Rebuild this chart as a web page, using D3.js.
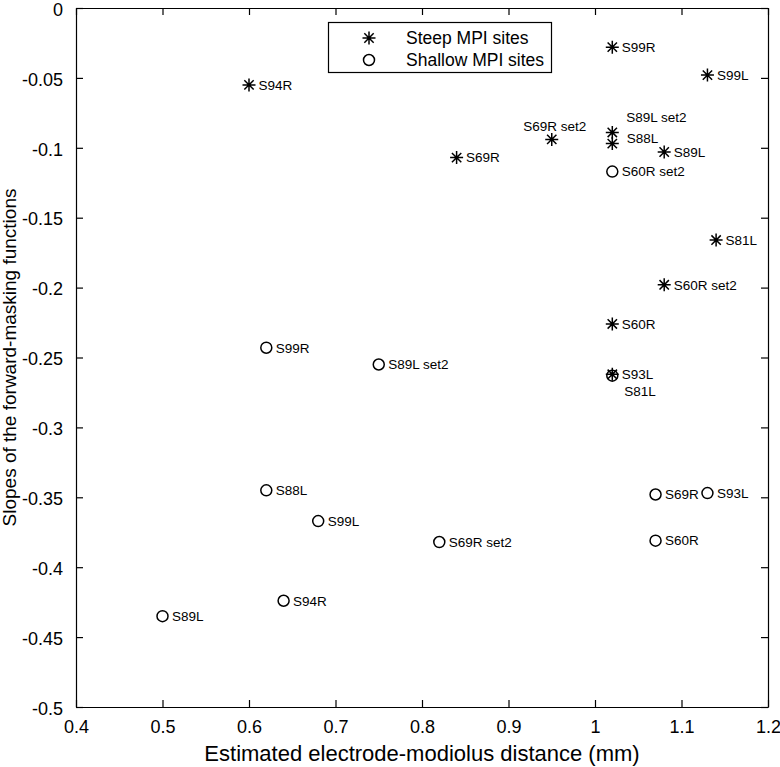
<!DOCTYPE html>
<html>
<head>
<meta charset="utf-8">
<script src="https://cdn.jsdelivr.net/npm/d3@7"></script>
<style>
  body { margin: 0; background: #fff; }
  svg text { font-family: "Liberation Sans", Arial, Helvetica, sans-serif; fill: #000; }
</style>
</head>
<body>
<div id="chart"></div>
<script>
// Steep MPI sites (asterisks)
const steepLabels = ["S94R", "S99R", "S99L", "S69R set2", "S89L set2", "S88L", "S89L",
  "S69R", "S81L", "S60R set2", "S60R", "S93L"];
const steepX = [0.60, 1.02, 1.13, 0.95, 1.02, 1.02, 1.08, 0.84, 1.14, 1.08, 1.02, 1.02];
const steepY = [-0.055, -0.028, -0.048, -0.094, -0.089, -0.097, -0.103, -0.107, -0.166, -0.198, -0.226, -0.262];

// Shallow MPI sites (circles)
const shallowLabels = ["S60R set2", "S99R", "S89L set2", "S81L", "S88L", "S99L", "S69R set2",
  "S94R", "S89L", "S69R", "S93L", "S60R"];
const shallowX = [1.02, 0.62, 0.75, 1.02, 0.62, 0.68, 0.82, 0.64, 0.50, 1.07, 1.13, 1.07];
const shallowY = [-0.117, -0.243, -0.255, -0.263, -0.345, -0.367, -0.382, -0.424, -0.435, -0.348, -0.347, -0.381];

const xTicks = [0.4, 0.5, 0.6, 0.7, 0.8, 0.9, 1.0, 1.1, 1.2];
const xTickLabels = ["0.4", "0.5", "0.6", "0.7", "0.8", "0.9", "1", "1.1", "1.2"];
const yTicks = [0, -0.05, -0.1, -0.15, -0.2, -0.25, -0.3, -0.35, -0.4, -0.45, -0.5];
const yTickLabels = ["0", "-0.05", "-0.1", "-0.15", "-0.2", "-0.25", "-0.3", "-0.35", "-0.4", "-0.45", "-0.5"];

const legendNames = ["Steep MPI sites", "Shallow MPI sites"];

const width = 780;
const height = 767;
const margin = {top: 8, right: 12, bottom: 60, left: 76};
const plotW = width - margin.left - margin.right;
const plotH = height - margin.top - margin.bottom;

const x = d3.scaleLinear().domain([0.4, 1.2]).range([0, plotW]);
const y = d3.scaleLinear().domain([-0.5, 0]).range([plotH, 0]);

const svg = d3.select("#chart").append("svg")
  .attr("width", width)
  .attr("height", height);

const g = svg.append("g")
  .attr("transform", `translate(${margin.left},${margin.top})`);

// axes with inward ticks on all four sides
const tickLen = 7;
const axisBottomG = g.append("g")
  .attr("transform", `translate(0,${plotH})`)
  .call(d3.axisBottom(x).tickValues(xTicks).tickSize(-tickLen).tickSizeOuter(0)
    .tickFormat((d, i) => xTickLabels[i]).tickPadding(13));
const axisTopG = g.append("g")
  .call(d3.axisTop(x).tickValues(xTicks).tickSize(-tickLen).tickSizeOuter(0).tickFormat(""));
const axisLeftG = g.append("g")
  .call(d3.axisLeft(y).tickValues(yTicks).tickSize(-tickLen).tickSizeOuter(0)
    .tickFormat((d, i) => yTickLabels[i]).tickPadding(13));
const axisRightG = g.append("g")
  .attr("transform", `translate(${plotW},0)`)
  .call(d3.axisRight(y).tickValues(yTicks).tickSize(-tickLen).tickSizeOuter(0).tickFormat(""));

[axisBottomG, axisTopG, axisLeftG, axisRightG].forEach(a => {
  a.selectAll("path, line").attr("stroke", "#000").attr("stroke-width", 1.2);
  a.selectAll("text").attr("font-size", 18).attr("fill", "#000");
});
axisBottomG.selectAll("text").attr("dy", "0.71em");
axisLeftG.selectAll("text").attr("dy", "0.4em");

// axis titles
svg.append("text")
  .attr("x", margin.left + plotW / 2)
  .attr("y", 761)
  .attr("text-anchor", "middle")
  .attr("font-size", 22)
  .text("Estimated electrode-modiolus distance (mm)");

svg.append("text")
  .attr("transform", `translate(16,${margin.top + plotH / 2}) rotate(-90)`)
  .attr("text-anchor", "middle")
  .attr("font-size", 19)
  .text("Slopes of the forward-masking functions");

// markers
function asterisk(sel, r) {
  const a = r * 0.72;
  sel.append("path")
    .attr("d", `M${-r},0H${r}M0,${-r}V${r}M${-a},${-a}L${a},${a}M${-a},${a}L${a},${-a}`)
    .attr("stroke", "#000")
    .attr("stroke-width", 1.5)
    .attr("fill", "none");
}
function circle(sel, r) {
  sel.append("circle")
    .attr("r", r)
    .attr("fill", "none")
    .attr("stroke", "#000")
    .attr("stroke-width", 1.5);
}

const steep = steepLabels.map((name, i) => ({name, x: steepX[i], y: steepY[i], type: "steep"}));
const shallow = shallowLabels.map((name, i) => ({name, x: shallowX[i], y: shallowY[i], type: "shallow"}));

shallow.forEach(d => {
  g.append("g").attr("transform", `translate(${x(d.x)},${y(d.y)})`).call(circle, 5.5);
});
steep.forEach(d => {
  g.append("g").attr("transform", `translate(${x(d.x)},${y(d.y)})`).call(asterisk, 6.5);
});

// label placement tweaks where labels would collide
const labelNudge = {
  "steep:S69R set2": {dx: 3, dy: -13.5, anchor: "middle"},
  "steep:S89L set2": {dx: 14, dy: -15},
  "steep:S88L": {dx: 14.5, dy: -5},
  "shallow:S81L": {dx: 12, dy: 15}
};

steep.concat(shallow).forEach(d => {
  const n = labelNudge[d.type + ":" + d.name] || {dx: 9.5, dy: 0};
  g.append("text")
    .attr("x", x(d.x) + n.dx)
    .attr("y", y(d.y) + n.dy)
    .attr("dy", "0.36em")
    .attr("text-anchor", n.anchor || "start")
    .attr("font-size", 13.5)
    .text(d.name);
});

// legend
const legend = svg.append("g");
legend.append("rect")
  .attr("x", 328.5).attr("y", 22.5)
  .attr("width", 223).attr("height", 50)
  .attr("fill", "#fff")
  .attr("stroke", "#000")
  .attr("stroke-width", 1.2);
legendNames.forEach((name, i) => {
  const ly = 38 + i * 22;
  const m = legend.append("g").attr("transform", `translate(369,${ly})`);
  if (i === 0) m.call(asterisk, 6.5); else m.call(circle, 5.5);
  legend.append("text")
    .attr("x", 406)
    .attr("y", ly)
    .attr("dy", "0.36em")
    .attr("font-size", 17.5)
    .text(name);
});
</script>
</body>
</html>
